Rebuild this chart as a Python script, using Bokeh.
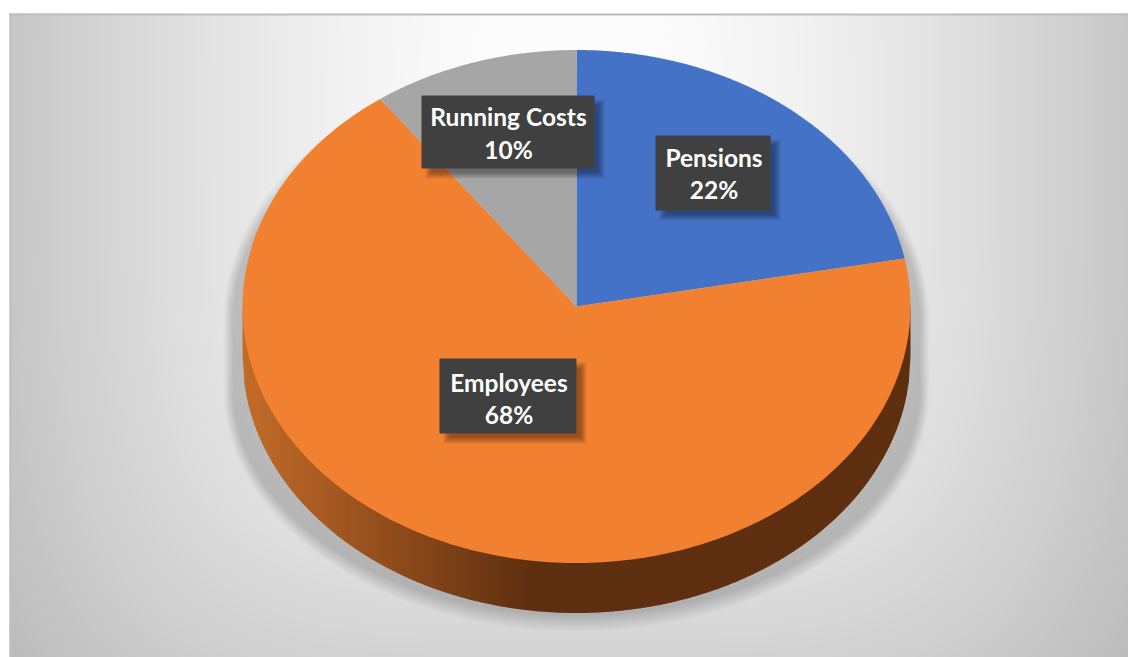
import numpy as np
from bokeh.plotting import figure
from bokeh.models import Range1d
from bokeh.core.properties import value
from bokeh.embed import file_html
from bokeh.resources import INLINE

# ---- data ----
names = ["Pensions", "Employees", "Running Costs"]
shares = [22, 68, 10]
colors = ["#4472c6", "#f28031", "#a6a6a6"]

# ---- layout (in window pixels) ----
CX, CY, RX, RY, DEPTH = 576.0, 306.0, 334.0, 256.5, 50.0
boxes = [(655, 770, 135, 210), (439, 576, 358, 433), (421, 594, 95, 168)]
baselines = [(157, 189), (381.5, 413.5), (115.5, 148.5)]
text_cx = [713.5, 508.5, 508]

p = figure(width=1128, height=657, output_backend="svg", toolbar_location=None,
           x_range=Range1d(0, 1128), y_range=Range1d(657, 0),
           x_axis_type=None, y_axis_type=None, min_border=0,
           outline_line_color=None, background_fill_color="white",
           border_fill_color="white")
p.xgrid.visible = False
p.ygrid.visible = False

# background gradient
W, H = 1119, 644
xs = np.arange(W) + 9.0
ys = np.arange(H) + 13.0
X, Y = np.meshgrid(xs, ys)
r = ((np.abs(X - 570) / 601) ** 3.8 + (np.abs(Y - 120) / 680) ** 3.8) ** (1 / 3.8)
v = np.clip(255 - 63 * r ** 1.6, 0, 255).astype(np.uint32)
img = (255 << 24) | (v << 16) | (v << 8) | v
p.image_rgba(image=[img.astype(np.uint32)], x=9, y=13, dw=W, dh=H)

p.quad(left=[9], right=[1128], top=[13], bottom=[15], fill_color="#bfbfbf", line_color=None)
p.quad(left=[9], right=[11], top=[13], bottom=[657], fill_color="#c0c0c0", line_color=None)


# pie drop shadow: a hull fading out over its outer pixels
def hull(grow):
    t = np.linspace(0, 2 * np.pi, 361)
    rx = 353 - grow * 0.6
    hx = CX + rx * np.sin(t)
    up = np.cos(t) > 0
    hy = np.where(up, 320 - (262 - grow) * np.cos(t), 390 - (241 - grow) * np.cos(t))
    return hx, hy


for k in range(14):
    hx, hy = hull(k * 1.2)
    p.patch(hx, hy, fill_color="black", fill_alpha=0.013, line_color=None)

# side wall of the pie
wx = np.arange(RX * -1, RX, 2.0)
wall_xs, wall_ys, wall_cols = [], [], []
c0, c1 = np.array([0xc4, 0x6c, 0x29]), np.array([0x5f, 0x2f, 0x10])
for a in wx:
    b = min(a + 2.6, RX)
    ya = CY + RY * np.sqrt(max(0, 1 - (a / RX) ** 2))
    yb = CY + RY * np.sqrt(max(0, 1 - (b / RX) ** 2))
    wall_xs.append([CX + a, CX + b, CX + b, CX + a])
    wall_ys.append([ya - 3, yb - 3, yb + DEPTH, ya + DEPTH])
    f = min(max((CX + a - 242) / 288, 0), 1)
    col = c0 + (c1 - c0) * f
    wall_cols.append("#%02x%02x%02x" % tuple(int(q) for q in col))
p.patches(wall_xs, wall_ys, fill_color=wall_cols, line_color=None)

# pie top: elliptical slices from the shares, clockwise from 12 o'clock
total = sum(shares)
cum = 0.0
for name, share, col in zip(names, shares, colors):
    a0, a1 = 2 * np.pi * cum / total, 2 * np.pi * (cum + share) / total
    t = np.linspace(a0, a1, 240)
    sx = np.r_[CX, CX + RX * np.sin(t)]
    sy = np.r_[CY, CY - RY * np.cos(t)]
    p.patch(sx, sy, fill_color=col, line_color=None)
    cum += share

# labels: shadow, box, two text lines
for (l, r_, t_, b_), (y1, y2), tx, name, share in zip(boxes, baselines, text_cx, names, shares):
    for g in range(7):
        p.quad(left=[l + 7 + g - 3], right=[r_ + 7 - g + 3], top=[t_ + 7 + g - 3], bottom=[b_ + 7 - g + 3],
               fill_color="black", fill_alpha=0.06, line_color=None)
    p.quad(left=[l], right=[r_], top=[t_], bottom=[b_], fill_color="#404040", line_color=None)
    p.text(x=[tx], y=[y1], text=[name], text_color="white", text_align="center",
           text_baseline="alphabetic", text_font=value("Lato"), text_font_style="bold",
           text_font_size="24.5px")
    p.text(x=[tx], y=[y2], text=["%d%%" % share], text_color="white", text_align="center",
           text_baseline="alphabetic", text_font=value("Lato"), text_font_style="bold",
           text_font_size="24.5px")

open("out.html", "w").write(file_html(p, INLINE))
